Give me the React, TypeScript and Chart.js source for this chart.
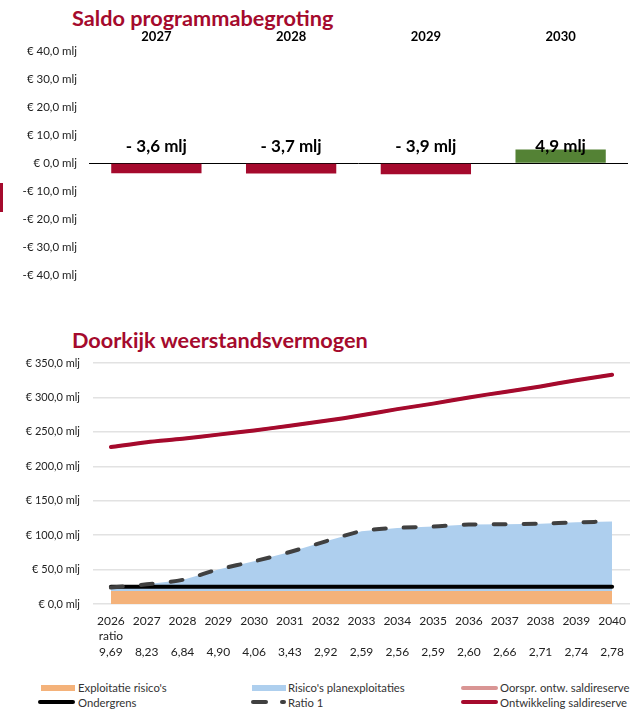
import React, { useEffect, useRef } from 'react';
import { Chart, registerables } from 'chart.js';

Chart.register(...registerables);

const FONT = 'Lato, "Noto Sans", sans-serif';
const RED = '#A50A2D';
const GREEN = '#548235';
const ORANGE = '#F4B27A';
const BLUE = '#AECFEE';
const PINK = '#D99594';
const DASH = '#404040';
const GRID = '#E2E2E2';

// ---- Saldo programmabegroting ----
const saldoYears = ['2027', '2028', '2029', '2030'];
const saldoValues = [-3.6, -3.7, -3.9, 4.9];
const saldoMin = -40;
const saldoMax = 40;
const saldoStep = 10;

// ---- Doorkijk weerstandsvermogen ----
const years = ['2026', '2027', '2028', '2029', '2030', '2031', '2032', '2033', '2034', '2035', '2036', '2037', '2038', '2039', '2040'];
const ratioLabels = ['9,69', '8,23', '6,84', '4,90', '4,06', '3,43', '2,92', '2,59', '2,56', '2,59', '2,60', '2,66', '2,71', '2,74', '2,78'];
const exploitatieRisicos = [19, 19, 19, 19, 19, 19, 19, 19, 19, 19, 19, 19, 19, 19, 19];
const risicosPlanexploitaties = [5, 9.6, 16, 31.2, 43, 56.5, 72, 86.8, 91.5, 93.4, 96.4, 96.8, 97.6, 99.6, 100.8];
const ondergrens = [25, 25, 25, 25, 25, 25, 25, 25, 25, 25, 25, 25, 25, 25, 25];
const ratio1 = [24, 28.6, 35, 50.2, 62, 75.5, 91, 105.8, 110.5, 112.4, 115.4, 115.8, 116.6, 118.6, 119.8];
const oorsprSaldireserve = [228, 235, 240, 246, 252, 259, 266, 274, 283, 291, 300, 308, 316, 325, 333];
const ontwikkelingSaldireserve = [228, 235, 240, 246, 252, 259, 266, 274, 283, 291, 300, 308, 316, 325, 333];
const weerstandMin = 0;
const weerstandMax = 350;
const weerstandStep = 50;

const fmtMlj = (v: number) =>
  (v < 0 ? '-€ ' : '€ ') + Math.abs(v).toFixed(1).replace('.', ',') + ' mlj';
const fmtBarLabel = (v: number) =>
  (v < 0 ? '- ' : '') + Math.abs(v).toFixed(1).replace('.', ',') + ' mlj';

const barLabelPlugin = {
  id: 'barLabels',
  afterDatasetsDraw(chart: any) {
    const meta = chart.getDatasetMeta(0);
    const y = chart.scales.y.getPixelForValue(0) - 16.5;
    const ctx = chart.ctx;
    ctx.save();
    ctx.font = `bold 17px ${FONT}`;
    ctx.fillStyle = '#000';
    ctx.textAlign = 'center';
    ctx.textBaseline = 'middle';
    meta.data.forEach((bar: any, i: number) => {
      ctx.fillText(fmtBarLabel(saldoValues[i]), bar.x, y);
    });
    ctx.restore();
  },
};

function SaldoChart() {
  const ref = useRef<HTMLCanvasElement>(null);
  useEffect(() => {
    const chart = new Chart(ref.current!, {
      type: 'bar',
      data: {
        labels: saldoYears,
        datasets: [
          {
            data: saldoValues,
            backgroundColor: saldoValues.map((v) => (v < 0 ? RED : GREEN)),
            barPercentage: 0.67,
            categoryPercentage: 1,
          },
        ],
      },
      options: {
        animation: false,
        responsive: false,
        layout: { padding: { left: 0, right: 13, top: 0, bottom: 15 } },
        plugins: { legend: { display: false }, tooltip: { enabled: false } },
        scales: {
          x: {
            position: 'top',
            grid: { display: false, drawTicks: false },
            border: { display: false },
            ticks: { color: '#000', font: { family: FONT, size: 13, weight: 'bold' }, padding: 7 },
            afterFit: (s: any) => { s.height = 31.5; },
          },
          y: {
            min: saldoMin,
            max: saldoMax,
            grid: {
              drawTicks: false,
              color: (c: any) => (c.tick && c.tick.value === 0 ? '#000' : 'transparent'),
              lineWidth: 1,
            },
            border: { display: false },
            ticks: {
              stepSize: saldoStep,
              color: '#222',
              font: { family: FONT, size: 11.5 },
              padding: 12,
              callback: (v: any) => fmtMlj(Number(v)),
            },
            afterFit: (s: any) => { s.width = 89; s.paddingTop = 0; s.paddingBottom = 0; },
          },
        },
      },
      plugins: [barLabelPlugin],
    } as any);
    return () => chart.destroy();
  }, []);
  return <canvas ref={ref} width={641} height={270} style={{ position: 'absolute', left: 0, top: 20 }} />;
}

function WeerstandChart() {
  const ref = useRef<HTMLCanvasElement>(null);
  useEffect(() => {
    const lineBase = { pointRadius: 0, fill: false, borderCapStyle: 'round', borderJoinStyle: 'round' };
    const chart = new Chart(ref.current!, {
      type: 'line',
      data: {
        labels: years.map((y, i) => [y, i === 0 ? 'ratio' : '', ratioLabels[i]]),
        datasets: [
          { ...lineBase, label: 'Ontwikkeling saldireserve', data: ontwikkelingSaldireserve, borderColor: RED, borderWidth: 4, tension: 0.3, stack: 's1' },
          { ...lineBase, label: 'Ratio 1', data: ratio1, borderColor: DASH, borderWidth: 4, borderDash: [12, 18], tension: 0.3, stack: 's2' },
          { ...lineBase, label: 'Ondergrens', data: ondergrens, borderColor: '#000', borderWidth: 4, tension: 0, stack: 's3' },
          { ...lineBase, label: 'Oorspr. ontw. saldireserve', data: oorsprSaldireserve, borderColor: PINK, borderWidth: 3, tension: 0.3, stack: 's4' },
          { label: "Exploitatie risico's", data: exploitatieRisicos, backgroundColor: ORANGE, borderWidth: 0, pointRadius: 0, fill: 'origin', tension: 0, stack: 'risk' },
          { label: "Risico's planexploitaties", data: risicosPlanexploitaties, backgroundColor: BLUE, borderWidth: 0, pointRadius: 0, fill: '-1', tension: 0, stack: 'risk' },
        ],
      },
      options: {
        animation: false,
        responsive: false,
        layout: { padding: { left: 0, right: 11, top: 13, bottom: 0 } },
        plugins: { legend: { display: false }, tooltip: { enabled: false } },
        scales: {
          x: {
            offset: true,
            grid: { display: false, drawTicks: false },
            border: { display: false },
            ticks: {
              autoSkip: false,
              maxRotation: 0,
              color: '#222',
              font: { family: FONT, size: 12, lineHeight: '15.5px' },
              padding: 9,
            },
            afterFit: (s: any) => { s.height = 76; },
          },
          y: {
            stacked: true,
            min: weerstandMin,
            max: weerstandMax,
            grid: { drawTicks: false, color: GRID, lineWidth: 1.5 },
            border: { display: false },
            ticks: {
              stepSize: weerstandStep,
              color: '#222',
              font: { family: FONT, size: 11 },
              padding: 13,
              callback: (v: any) => fmtMlj(Number(v)),
            },
            afterFit: (s: any) => { s.width = 93; s.paddingTop = 0; s.paddingBottom = 0; },
          },
        },
      },
    } as any);
    return () => chart.destroy();
  }, []);
  return <canvas ref={ref} width={641} height={330} style={{ position: 'absolute', left: 0, top: 350 }} />;
}

const legendText: React.CSSProperties = { position: 'absolute', font: `11.3px ${FONT}`, color: '#333', lineHeight: '14px', whiteSpace: 'nowrap' };

function Legend() {
  const box = (left: number, top: number, w: number, h: number, bg: string, r = 0) => (
    <div style={{ position: 'absolute', left, top, width: w, height: h, background: bg, borderRadius: r }} />
  );
  return (
    <>
      {box(41, 685, 34, 6, ORANGE)}
      <div style={{ ...legendText, left: 78, top: 681 }}>Exploitatie risico's</div>
      {box(252, 685, 34, 6, BLUE)}
      <div style={{ ...legendText, left: 288, top: 681 }}>Risico's planexploitaties</div>
      {box(461, 686, 37, 4, PINK, 2)}
      <div style={{ ...legendText, left: 500, top: 681 }}>Oorspr. ontw. saldireserve</div>

      {box(38, 700, 37, 4, '#000', 2)}
      <div style={{ ...legendText, left: 78, top: 696 }}>Ondergrens</div>
      {box(251, 700, 17, 4, DASH, 2)}
      {box(280, 700, 6, 4, DASH, 2)}
      <div style={{ ...legendText, left: 288, top: 696 }}>Ratio 1</div>
      {box(461, 700, 37, 4, RED, 2)}
      <div style={{ ...legendText, left: 500, top: 696 }}>Ontwikkeling saldireserve</div>
    </>
  );
}

const titleStyle: React.CSSProperties = {
  position: 'absolute',
  left: 72,
  font: `bold 21.7px ${FONT}`,
  color: RED,
  lineHeight: '24px',
  whiteSpace: 'nowrap',
};

export default function App() {
  return (
    <div style={{ position: 'absolute', left: 0, top: 0, width: 641, height: 710, background: '#fff', overflow: 'hidden' }}>
      <div style={{ ...titleStyle, top: 6 }}>Saldo programmabegroting</div>
      <SaldoChart />
      <div style={{ position: 'absolute', left: 0, top: 183, width: 3, height: 29, background: RED }} />
      <div style={{ ...titleStyle, top: 328 }}>Doorkijk weerstandsvermogen</div>
      <WeerstandChart />
      <Legend />
    </div>
  );
}
